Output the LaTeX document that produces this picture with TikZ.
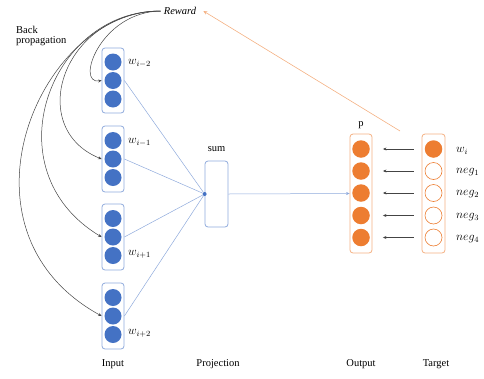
\documentclass[tikz,border=0pt]{standalone}
\usepackage{fontspec}
\setmainfont{Liberation Serif}
\usetikzlibrary{arrows.meta}
\definecolor{dotblue}{HTML}{4472C4}
\definecolor{boxblue}{HTML}{8FAADC}
\definecolor{dotorange}{HTML}{ED7D31}
\definecolor{boxorange}{HTML}{F4B183}
\definecolor{wire}{HTML}{444444}
\tikzset{
  inbox/.style={draw=boxblue, line width=0.8pt, rounded corners=3pt, minimum width=22pt, minimum height=66pt, inner sep=0pt},
  outbox/.style={draw=boxorange, line width=0.8pt, rounded corners=3pt, minimum width=22pt, minimum height=119pt, inner sep=0pt},
  bdot/.style={circle, fill=dotblue, minimum size=17pt, inner sep=0pt},
  odot/.style={circle, fill=dotorange, minimum size=17.5pt, inner sep=0pt},
  tdot/.style={circle, draw=dotorange, fill=white, line width=0.6pt, minimum size=17pt, inner sep=0pt},
  lab/.style={font=\fontsize{10.5}{12}\selectfont, inner sep=1pt},
  wlab/.style={font=\fontsize{11.5}{13}\selectfont, anchor=west, inner sep=1pt},
  bline/.style={draw=boxblue, line width=0.5pt},
  bp/.style={draw=wire, line width=0.5pt, -{Stealth[length=3.5pt,width=3pt]}},
  karrow/.style={draw=wire, line width=0.5pt, -{Stealth[length=3.5pt,width=3pt]}},
  oline/.style={draw=boxorange, line width=0.6pt, -{Stealth[length=4pt,width=3.5pt]}}
}
\begin{document}
\begin{tikzpicture}[x=1pt,y=-1pt]
\useasboundingbox (0,0) rectangle (484,378);

% input word vectors
\node[inbox, minimum height=65pt] (in1) at (113,80.5) {};
\node[bdot] (a1) at (113,62) {};
\node[bdot] (a2) at (113,80.5) {};
\node[bdot] (a3) at (113,99) {};
\node[inbox] (in2) at (113,159) {};
\node[bdot] (b1) at (113,140.5) {};
\node[bdot] (b2) at (113,159) {};
\node[bdot] (b3) at (113,177.5) {};
\node[inbox] (in3) at (113,237) {};
\node[bdot] (c1) at (113,218.5) {};
\node[bdot] (c2) at (113,237) {};
\node[bdot] (c3) at (113,255.5) {};
\node[inbox] (in4) at (113,316) {};
\node[bdot] (d1) at (113,297.5) {};
\node[bdot] (d2) at (113,316) {};
\node[bdot] (d3) at (113,334.5) {};

\node[wlab] (l1) at (127,63) {$w_{i-2}$};
\node[wlab] (l2) at (127,142) {$w_{i-1}$};
\node[wlab] (l3) at (127,254) {$w_{i+1}$};
\node[wlab] (l4) at (127,333) {$w_{i+2}$};

% projection layer
\node[inbox, minimum width=23pt] (sum) at (216.5,194) {};
\node[lab] (sumlab) at (216.5,149) {sum};
\node[circle, fill=dotblue, minimum size=4pt, inner sep=0pt] (sdot) at (sum.west) {};

\draw[bline] (in1.east) -- (sdot);
\draw[bline] (in2.east) -- (sdot);
\draw[bline] (in3.east) -- (sdot);
\draw[bline] (in4.east) -- (sdot);

% output layer
\node[outbox] (out) at (361,193.5) {};
\node[odot] (o1) at (361,149) {};
\node[odot] (o2) at (361,171) {};
\node[odot] (o3) at (361,193) {};
\node[odot] (o4) at (361,215.5) {};
\node[odot] (o5) at (361,237.5) {};
\node[lab] (plab) at (361,125) {p};

\draw[bline, -{Stealth[length=3.5pt,width=3pt]}] (sum.east) -- (out.west);

% target layer
\node[outbox, minimum width=23pt] (tgt) at (433.5,193.5) {};
\node[odot] (t1) at (433.5,149) {};
\node[tdot] (t2) at (433.5,171) {};
\node[tdot] (t3) at (433.5,193) {};
\node[tdot] (t4) at (433.5,215.5) {};
\node[tdot] (t5) at (433.5,237.5) {};

\node[wlab] (n0) at (455,151) {$w_i$};
\node[wlab] (n1) at (455,172) {$neg_1$};
\node[wlab] (n2) at (455,194) {$neg_2$};
\node[wlab] (n3) at (455,217) {$neg_3$};
\node[wlab] (n4) at (455,239) {$neg_4$};

\draw[karrow] ([xshift=-11pt]t1.west) -- ([xshift=13pt]o1.east);
\draw[karrow] ([xshift=-11pt]t2.west) -- ([xshift=13pt]o2.east);
\draw[karrow] ([xshift=-11pt]t3.west) -- ([xshift=13pt]o3.east);
\draw[karrow] ([xshift=-11pt]t4.west) -- ([xshift=13pt]o4.east);
\draw[karrow] ([xshift=-11pt]t5.west) -- ([xshift=13pt]o5.east);

% reward signal and back propagation
\node[lab, font=\fontsize{10.5}{12}\selectfont\itshape, inner sep=3pt] (rew) at (180,11) {Reward};
\coordinate (fb) at (400,131);
\draw[oline] (fb) -- ([xshift=4pt]rew.east);

\node[lab, align=left, anchor=north west] (bplab) at (15,25) {Back\\[-1.5pt]propagation};

\draw[bp] (rew.west) .. controls (100,12) and (75,85) .. (in1.west);
\draw[bp] (rew.west) .. controls (62,12) and (25,128) .. (in2.west);
\draw[bp] (rew.west) .. controls (50,10) and (-10,170) .. (in3.west);
\draw[bp] (rew.west) .. controls (40,10) and (-55,230) .. (in4.west);

% layer captions
\node[lab] (cin) at (113,364) {Input};
\node[lab] (cproj) at (218,364) {Projection};
\node[lab] (cout) at (361,364) {Output};
\node[lab] (ctgt) at (436,364) {Target};
\end{tikzpicture}
\end{document}
